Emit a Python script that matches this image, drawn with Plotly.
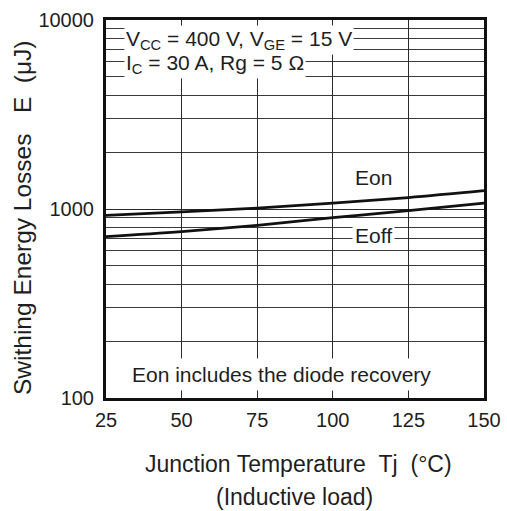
import plotly.graph_objects as go

tj = [25, 50, 75, 100, 125, 150]
eon = [925, 965, 1010, 1075, 1150, 1250]
eoff = [715, 760, 820, 900, 980, 1075]
x_ticks = [25, 50, 75, 100, 125, 150]
y_ticks = [100, 1000, 10000]

FONT = "Liberation Sans, Arial, sans-serif"
TXT = "#1e1e1e"
L, R, T, B = 106, 23, 20, 113
PW, PH = 507 - L - R, 511 - T - B


def px(xp):
    return (xp - L) / PW


def py(yp):
    return (511 - B - yp) / PH


fig = go.Figure()
fig.add_trace(go.Scatter(x=tj, y=eon, mode="lines", line=dict(color="#111", width=2.8, shape="spline"), name="Eon"))
fig.add_trace(go.Scatter(x=tj, y=eoff, mode="lines", line=dict(color="#111", width=2.8, shape="spline"), name="Eoff"))

fig.update_layout(
    width=507, height=511,
    margin=dict(l=L, r=R, t=T, b=B, autoexpand=False),
    paper_bgcolor="white", plot_bgcolor="white",
    showlegend=False,
    font=dict(family=FONT, size=20, color=TXT),
)
fig.update_xaxes(
    range=[25, 150], tickvals=x_ticks, ticktext=[str(v) for v in x_ticks],
    showgrid=True, gridcolor="#2a2a2a", gridwidth=1,
    showline=True, linecolor="#111", linewidth=3, mirror=True,
    ticks="", zeroline=False, tickfont=dict(size=20), automargin=False,
    ticklabelstandoff=2,
)
fig.update_yaxes(
    type="log", range=[2, 4], tickvals=y_ticks, ticktext=[str(v) for v in y_ticks],
    showgrid=True, gridcolor="#2a2a2a", gridwidth=1,
    minor=dict(dtick="D1", showgrid=True, gridcolor="#3a3a3a", gridwidth=1, ticks=""),
    showline=True, linecolor="#111", linewidth=3, mirror=True,
    ticks="", zeroline=False, tickfont=dict(size=20), automargin=False,
    ticklabelstandoff=5,
)

# axis titles
NB = "\u00a0"
fig.add_annotation(x=px(22), y=py(218), xref="paper", yref="paper", textangle=-90,
                   text=f"Swithing Energy Losses{NB}{NB}{NB}E{NB}{NB}(μJ)", showarrow=False,
                   font=dict(size=24.5), xanchor="center", yanchor="middle")
fig.add_annotation(x=px(298), y=py(464), xref="paper", yref="paper",
                   text=f"Junction Temperature{NB}{NB}Tj{NB}{NB}(°C)", showarrow=False,
                   font=dict(size=23), xanchor="center", yanchor="middle")
fig.add_annotation(x=px(294), y=py(497), xref="paper", yref="paper",
                   text="(Inductive load)", showarrow=False,
                   font=dict(size=23), xanchor="center", yanchor="middle")

# conditions (second line first so the first line's subscripts stay on top)
fig.add_annotation(x=px(124), y=py(64), xref="paper", yref="paper", xanchor="left", yanchor="middle",
                   text="I<sub>C</sub> = 30 A, Rg = 5 Ω",
                   showarrow=False, align="left", bgcolor="white", borderpad=1, font=dict(size=21))
fig.add_annotation(x=px(124), y=py(40), xref="paper", yref="paper", xanchor="left", yanchor="middle",
                   text="V<sub>CC</sub> = 400 V, V<sub>GE</sub> = 15 V",
                   showarrow=False, align="left", bgcolor="white", borderpad=1, font=dict(size=21))
fig.add_annotation(x=px(281), y=py(374), xref="paper", yref="paper", xanchor="center", yanchor="middle",
                   text="Eon includes the diode recovery", showarrow=False, bgcolor="white", borderpad=4,
                   font=dict(size=21))
fig.add_annotation(x=px(373), y=py(177), xref="paper", yref="paper", xanchor="center", yanchor="middle",
                   text="Eon", showarrow=False, font=dict(size=21))
fig.add_annotation(x=px(373), y=py(235), xref="paper", yref="paper", xanchor="center", yanchor="middle",
                   text="Eoff", showarrow=False, bgcolor="white", borderpad=2, font=dict(size=21))

fig.write_html("out.html", config={"displayModeBar": False},
               post_script="document.body.style.margin='0';document.body.style.padding='0';")
